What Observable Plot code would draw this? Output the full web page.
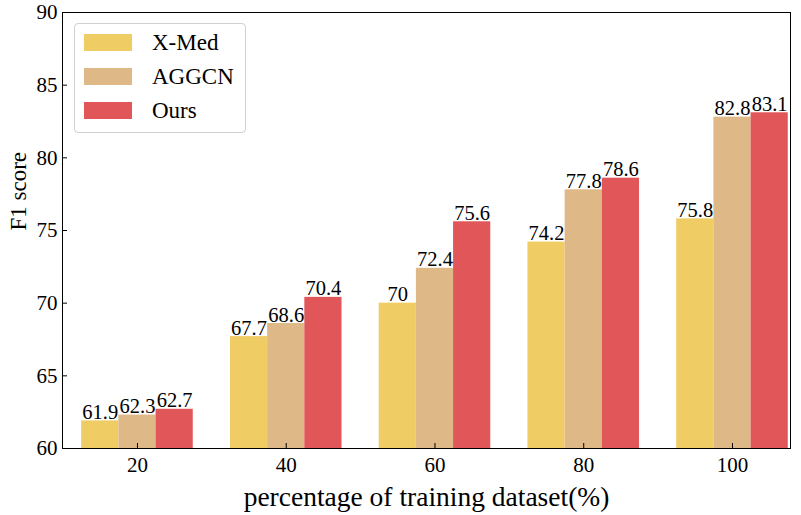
<!DOCTYPE html>
<html>
<head>
<meta charset="utf-8">
<script src="https://cdn.jsdelivr.net/npm/d3@7"></script>
<script src="https://cdn.jsdelivr.net/npm/@observablehq/plot@0.6"></script>
<style>
  html, body { margin: 0; padding: 0; background: #fff; }
  #wrap { position: relative; width: 801px; height: 515px; font-family: "Liberation Serif", "Times New Roman", serif; }
  #wrap svg, #wrap svg text { font-family: "Liberation Serif", "Times New Roman", serif !important; }
  #legend { position: absolute; left: 74px; top: 23px; width: 170px; height: 108px; border: 1px solid #d0d0d0; border-radius: 4px; background: rgba(255,255,255,0.85); }
  .row { position: absolute; left: 9px; height: 17px; display: flex; align-items: center; }
  .sw { width: 48px; height: 17px; }
  .lab { margin-left: 20px; font-size: 23px; color: #000; line-height: 17px; }
</style>
</head>
<body>
<div id="wrap"></div>
<script>
const categories = [20, 40, 60, 80, 100];
const seriesNames = ["X-Med", "AGGCN", "Ours"];
const xmed  = [61.9, 67.7, 70.0, 74.2, 75.8];
const aggcn = [62.3, 68.6, 72.4, 77.8, 82.8];
const ours  = [62.7, 70.4, 75.6, 78.6, 83.1];
const colors = ["#f0cc64", "#deb887", "#e15759"];
const yTicks = [60, 65, 70, 75, 80, 85, 90];
const yMin = 60, yMax = 90;
const serif = '"Liberation Serif", "Times New Roman", serif';

const seriesValues = [xmed, aggcn, ours];
const barW = 0.25;
const rows = [];
seriesNames.forEach((s, j) => {
  categories.forEach((c, i) => {
    rows.push({cat: c, idx: i, series: s, j, value: seriesValues[j][i]});
  });
});
const center = d => d.idx + (d.j - 1) * barW;

const chart = Plot.plot({
  width: 801,
  height: 515,
  marginLeft: 62,
  marginRight: 11,
  marginTop: 12,
  marginBottom: 67,
  style: {fontFamily: serif, background: "#fff", color: "#000"},
  x: {type: "linear", domain: [-0.504, 4.39]},
  y: {domain: [yMin, yMax]},
  color: {domain: seriesNames, range: colors},
  marks: [
    Plot.rectY(rows, {
      x1: d => center(d) - barW / 2,
      x2: d => center(d) + barW / 2,
      y1: () => yMin,
      y2: "value",
      fill: "series"
    }),
    Plot.text(rows, {
      x: center,
      y: "value",
      text: d => String(d.value),
      lineAnchor: "bottom",
      dy: -2,
      fontSize: 20.5,
      fontFamily: serif,
      fill: "#000"
    }),
    Plot.frame({stroke: "#000", strokeWidth: 1}),
    Plot.axisY(yTicks, {tickSize: -5, tickPadding: 10, fontSize: 21, fontFamily: serif, label: null, tickFormat: d => String(d)}),
    Plot.axisX(categories.map((c, i) => i), {tickSize: -5, tickPadding: 14, fontSize: 21, fontFamily: serif, label: null, tickFormat: i => String(categories[i])}),
    Plot.text(["percentage of training dataset(%)"], {frameAnchor: "bottom", dy: 57, lineAnchor: "bottom", fontSize: 27.5, fontFamily: serif, fill: "#000"}),
    Plot.text(["F1 score"], {frameAnchor: "left", rotate: -90, dx: -44, fontSize: 23, fontFamily: serif, fill: "#000"})
  ]
});

const wrap = document.getElementById("wrap");
wrap.appendChild(chart);

const legend = document.createElement("div");
legend.id = "legend";
seriesNames.forEach((s, j) => {
  const r = document.createElement("div");
  r.className = "row";
  r.style.top = (10 + j * 34) + "px";
  const sw = document.createElement("div");
  sw.className = "sw";
  sw.style.background = colors[j];
  const lab = document.createElement("span");
  lab.className = "lab";
  lab.textContent = s;
  r.appendChild(sw);
  r.appendChild(lab);
  legend.appendChild(r);
});
wrap.appendChild(legend);
</script>
</body>
</html>
